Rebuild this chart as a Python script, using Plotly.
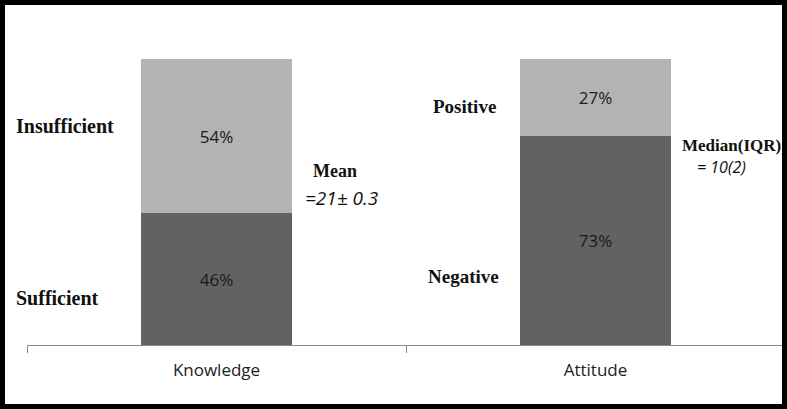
import plotly.graph_objects as go

categories = ["Knowledge", "Attitude"]
lower_values = [46, 73]   # Sufficient / Negative
upper_values = [54, 27]   # Insufficient / Positive
lower_color = "#626262"
upper_color = "#b3b3b3"

W, H = 787, 409
L, R, T, B = 27, 2, 59, 64
PW, PH = W - L - R, H - T - B

def xp(px):
    return (px - L) / PW

def yp(py):
    return (H - B - py) / PH

fig = go.Figure()
for vals, col in ((lower_values, lower_color), (upper_values, upper_color)):
    fig.add_trace(go.Bar(x=categories, y=vals, marker_color=col,
                         marker_line_width=0,
                         text=[f"{v}%" for v in vals], textposition="inside",
                         insidetextanchor="middle",
                         textfont=dict(family="Open Sans", size=17, color="#1a1a1a")))

serif = "Liberation Serif"
ann = []
def add(text, px, py, size, family=serif, anchor="left"):
    ann.append(dict(text=text, x=xp(px), y=yp(py), xref="paper", yref="paper",
                    xanchor=anchor, yanchor="middle", showarrow=False,
                    font=dict(family=family, size=size, color="#111")))

add("<b>Insufficient</b>", 14, 126, 20)
add("<b>Sufficient</b>", 14, 298, 20)
add("<b>Positive</b>", 431, 106, 19)
add("<b>Negative</b>", 426, 276, 19)
add("<b>Mean</b>", 311, 171, 18)
add("<i>=21± 0.3</i>", 303, 198, 19, family="Open Sans")
add("<b>Median(IQR)</b>", 680, 145, 17)
add("<i>= 10(2)</i>", 695, 167, 16, family="Open Sans")

fig.update_layout(
    barmode="stack",
    bargap=0.604,
    width=W, height=H,
    margin=dict(l=L, r=R, t=T, b=B),
    paper_bgcolor="white", plot_bgcolor="white",
    showlegend=False,
    annotations=ann,
    xaxis=dict(showline=True, linecolor="#8a8a8a", linewidth=1,
               ticks="outside", tickson="boundaries", ticklen=7, tickcolor="#8a8a8a",
               ticklabelstandoff=10,
               tickfont=dict(family="Open Sans", size=17, color="#222"),
               showgrid=False, zeroline=False),
    yaxis=dict(range=[0, 100], visible=False, showgrid=False),
    shapes=[dict(type="rect", xref="paper", yref="paper",
                 x0=xp(2.5), x1=xp(784.5), y0=yp(406.5), y1=yp(2.5),
                 line=dict(color="black", width=5), layer="above")],
)

fig.write_html("out.html", config={"displayModeBar": False},
               post_script="document.body.style.margin='0';document.body.style.padding='0';")
